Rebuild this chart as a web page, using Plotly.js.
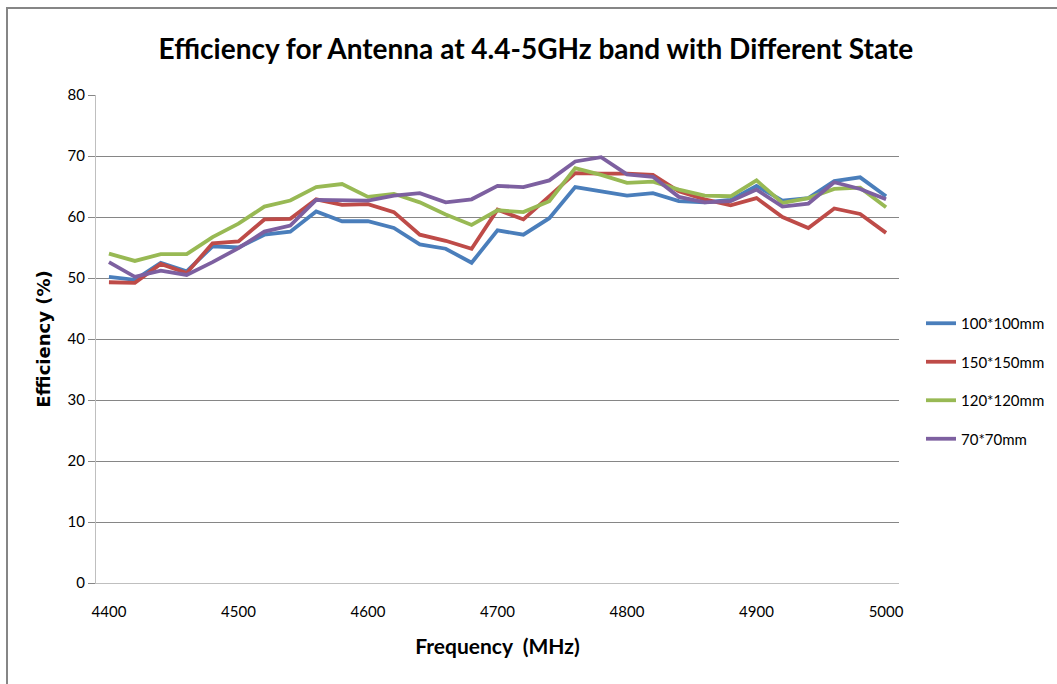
<!DOCTYPE html>
<html>
<head>
<meta charset="utf-8">
<script src="https://cdn.plot.ly/plotly-3.0.1.min.js"></script>
<style>
  html, body { margin: 0; padding: 0; background: #ffffff; }
  #chart { width: 1057px; height: 684px; }
</style>
</head>
<body>
<div id="chart"></div>
<script>
const freq = [4400,4420,4440,4460,4480,4500,4520,4540,4560,4580,4600,4620,4640,4660,4680,4700,
              4720,4740,4760,4780,4800,4820,4840,4860,4880,4900,4920,4940,4960,4980,5000];

const eff100 = [50.2,49.7,52.5,51.1,55.2,55.0,57.1,57.6,60.9,59.3,59.3,58.2,55.5,54.8,52.5,57.8,
                57.1,59.8,64.9,64.2,63.5,63.9,62.6,62.4,62.8,65.1,62.7,63.1,65.9,66.5,63.4];
const eff150 = [49.3,49.2,52.3,50.8,55.7,56.0,59.6,59.7,62.9,62.0,62.1,60.8,57.1,56.1,54.8,61.2,
                59.6,63.4,67.2,67.1,67.1,66.9,64.2,62.9,61.9,63.1,60.0,58.2,61.4,60.5,57.4];
const eff120 = [54.0,52.8,53.9,53.9,56.7,58.9,61.7,62.7,64.9,65.4,63.3,63.8,62.4,60.4,58.7,61.1,
                60.8,62.6,68.0,66.9,65.6,65.8,64.5,63.5,63.4,66.0,62.3,63.1,64.6,64.8,61.6];
const eff70  = [52.6,50.2,51.2,50.5,52.6,54.9,57.6,58.6,62.8,62.7,62.7,63.5,63.9,62.4,62.9,65.1,
                64.9,66.0,69.1,69.8,67.0,66.6,63.3,62.4,62.6,64.5,61.7,62.2,65.7,64.6,62.9];

const seriesNames = ["100*100mm","150*150mm","120*120mm","70*70mm"];
const seriesData = [eff100, eff150, eff120, eff70];
const seriesColors = ["#4A7EBB","#BE4B48","#98B954","#7D60A0"];

const xTicks = [4400,4500,4600,4700,4800,4900,5000];
const yTicks = [0,10,20,30,40,50,60,70,80];

const FONT = "Lato, 'Open Sans', sans-serif";

const traces = seriesNames.map((name, i) => ({
  type: "scatter",
  mode: "lines",
  x: freq,
  y: seriesData[i],
  name: name,
  legendgroup: "g" + i,
  line: { color: seriesColors[i], width: 3.8 }
}));

const layout = {
  width: 1057,
  height: 684,
  paper_bgcolor: "#ffffff",
  plot_bgcolor: "#ffffff",
  margin: { l: 96, r: 158, t: 95, b: 101, autoexpand: false },
  font: { family: FONT, color: "#000000" },
  title: {
    text: "<b>Efficiency for Antenna at 4.4-5GHz band with Different State</b>",
    font: { family: FONT, size: 28, color: "#000000" },
    x: 0.507, xref: "container", xanchor: "center",
    y: 1 - 49/684, yref: "container", yanchor: "middle"
  },
  xaxis: {
    range: [4390, 5010],
    tickvals: xTicks,
    ticktext: xTicks.map(String),
    ticks: "",
    ticklabelstandoff: 15,
    tickfont: { size: 15, family: FONT, color: "#000000" },
    showgrid: false,
    zeroline: false,
    showline: true,
    linecolor: "#BFBFBF",
    linewidth: 1,
    title: {
      text: "<b>Frequency  (MHz)</b>",
      font: { size: 21, family: FONT, color: "#000000" },
      standoff: 20
    }
  },
  yaxis: {
    range: [0, 80],
    tickvals: yTicks,
    ticks: "outside",
    ticklen: 7,
    tickcolor: "#868686",
    tickfont: { size: 15, family: FONT, color: "#000000" },
    showgrid: true,
    gridcolor: "#868686",
    gridwidth: 1,
    zeroline: false,
    showline: true,
    linecolor: "#BFBFBF",
    linewidth: 1,
    title: {
      text: "<b>Efficiency (%)</b>",
      font: { size: 18, family: "'DejaVu Sans', Verdana, sans-serif", color: "#000000" },
      standoff: 12
    }
  },
  showlegend: true,
  legend: {
    xref: "container", yref: "container",
    x: 921 / 1057, xanchor: "left",
    y: 1 - 381 / 684, yanchor: "middle",
    tracegroupgap: 16,
    itemwidth: 30,
    font: { size: 15, family: FONT, color: "#000000" },
    bgcolor: "rgba(0,0,0,0)"
  },
  shapes: [{
    type: "rect",
    xref: "paper", yref: "paper",
    x0: (7 - 96) / 803, x1: (1080 - 96) / 803,
    y0: (583 - 700) / 488, y1: (583 - 8) / 488,
    line: { color: "#868686", width: 2 },
    fillcolor: "rgba(0,0,0,0)",
    layer: "below"
  }]
};

Plotly.newPlot("chart", traces, layout, { displayModeBar: false, staticPlot: true });
</script>
</body>
</html>
